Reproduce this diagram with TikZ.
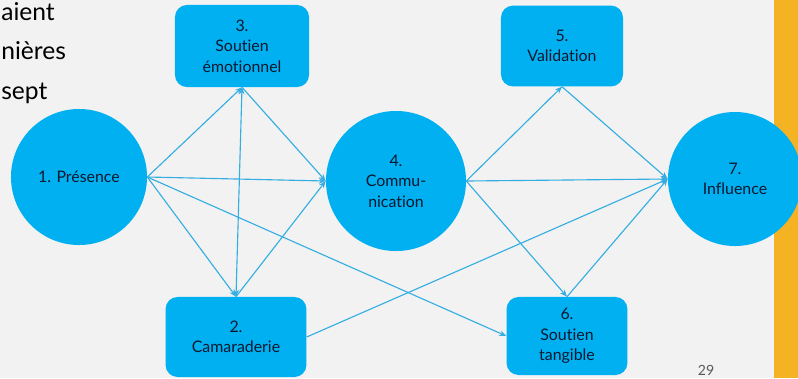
\documentclass[tikz,border=0pt]{standalone}
\usepackage{fontspec}
\setmainfont{Lato}[Ligatures={NoCommon}]
\usetikzlibrary{arrows.meta}

\definecolor{fond}{RGB}{242,242,242}
\definecolor{bleu}{RGB}{0,176,240}
\definecolor{trait}{RGB}{52,174,226}
\definecolor{encre}{RGB}{12,24,48}
\definecolor{bande}{RGB}{245,178,35}
\definecolor{numero}{RGB}{89,89,89}

\tikzset{
  boite/.style={rectangle, rounded corners=0.3cm, fill=bleu, text=encre, align=center,
    font=\fontsize{11.3}{14.5}\selectfont, inner sep=0pt},
  rond/.style={circle, fill=bleu, text=encre, align=center,
    font=\fontsize{11.3}{14.5}\selectfont, inner sep=0pt},
  fleche/.style={draw=trait, line width=0.8pt, -{Stealth[length=5pt,width=4pt]}},
  flechedouble/.style={draw=trait, line width=0.8pt, {Stealth[length=5pt,width=4pt]}-{Stealth[length=5pt,width=4pt]}},
  ligne/.style={anchor=base west, inner sep=0pt, font=\fontsize{17.5}{22}\selectfont, text=black}
}

\begin{document}
\begin{tikzpicture}[x=0.025cm, y=-0.025cm]
  \useasboundingbox (0,0) rectangle (798,378);
  \fill[fond] (0,0) rectangle (798,378);
  \clip (0,0) rectangle (798,378);
  \fill[bande] (774,0) rectangle (798,378);

  \node[ligne] (ligneA) at (1,20) {aient};
  \node[ligne] (ligneB) at (1,59) {nières};
  \node[ligne] (ligneC) at (1,99) {sept};

  \node[rond, minimum size=3.4cm] (presence) at (79,177) {1. Présence};
  \node[boite, minimum width=3.52cm, minimum height=2cm] (camaraderie) at (236,337) {2.\\Camaraderie};
  \node[boite, minimum width=3.35cm, minimum height=2.05cm] (soutienemo) at (242,46) {3.\\Soutien\\émotionnel};
  \node[rond, minimum size=3.5cm] (communication) at (396,181) {4.\\Commu-\\nication};
  \node[boite, minimum width=3.05cm, minimum height=2.02cm] (validation) at (562,46) {5.\\Validation};
  \node[boite, minimum width=3.02cm, minimum height=1.95cm] (tangible) at (567,336) {6.\\Soutien\\tangible};
  \node[rond, minimum size=3.35cm] (influence) at (735,179) {7.\\Influence};

  \node[anchor=base, font=\fontsize{10}{12}\selectfont, text=numero] (page) at (706,375) {29};

  \draw[fleche] (presence.east) -- (soutienemo.south);
  \draw[fleche] (presence.east) -- (camaraderie.north);
  \draw[fleche] (presence.east) -- (communication.west);
  \draw[fleche] (presence.east) -- (tangible.west);
  \draw[flechedouble] (soutienemo.south) -- (camaraderie.north);
  \draw[fleche] (soutienemo.south) -- (communication.west);
  \draw[fleche] (camaraderie.north) -- (communication.west);
  \draw[fleche] (communication.east) -- (validation.south);
  \draw[fleche] (communication.east) -- (influence.west);
  \draw[fleche] (communication.east) -- (tangible.north);
  \draw[fleche] (validation.south) -- (influence.west);
  \draw[fleche] (tangible.north) -- (influence.west);
  \draw[fleche] (camaraderie.east) -- (influence.west);
\end{tikzpicture}
\end{document}
